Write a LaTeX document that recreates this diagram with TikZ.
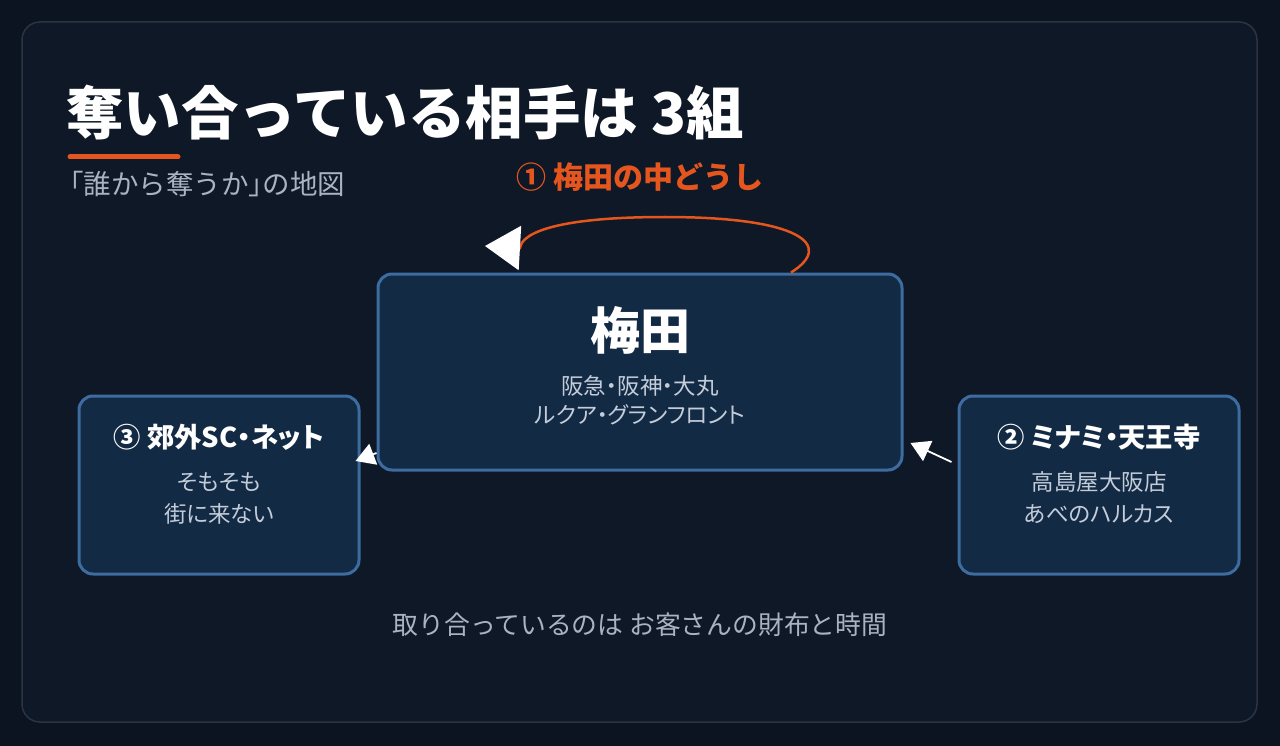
\documentclass[tikz,border=0pt]{standalone}
\usepackage{fontspec}
\setmainfont{Noto Sans CJK JP}
\newfontfamily\jpp{Noto Sans CJK JP}[RawFeature=+palt]
\usetikzlibrary{arrows.meta}
\definecolor{bg}{HTML}{0B1420}
\definecolor{panel}{HTML}{0E1826}
\definecolor{panelline}{HTML}{2A3544}
\definecolor{boxfill}{HTML}{132A44}
\definecolor{boxline}{HTML}{3D6CA0}
\definecolor{accent}{HTML}{E5561F}
\definecolor{subtext}{HTML}{A9B4C2}
\definecolor{bodytext}{HTML}{C3CDDA}
\newcommand\pb[1]{{\jpp #1}}
\tikzset{
  box/.style={rectangle, draw=boxline, fill=boxfill, line width=3pt, rounded corners=14pt, inner sep=0pt},
  txt/.style={inner sep=0pt, text=white},
  ttl/.style={txt, font=\bfseries\fontsize{57.5}{60}\selectfont},
  sub/.style={txt, text=subtext, font=\fontsize{27.5}{30}\selectfont},
  head/.style={txt, font=\jpp\bfseries\fontsize{27.3}{30}\selectfont},
  big/.style={txt, font=\jpp\bfseries\fontsize{50}{56}\selectfont},
  body/.style={txt, text=bodytext, font=\jpp\fontsize{22.5}{26}\selectfont},
  warrow/.style={draw=white, line width=1.8pt, -{Triangle[length=19pt,width=22pt,color=white,fill=white]}},
  looparrow/.style={draw=accent, line width=2.5pt, -{Triangle[length=35pt,width=44pt,color=white,fill=white]}},
}
\begin{document}
\begin{tikzpicture}[x=1pt,y=-1pt]
\useasboundingbox (0,0) rectangle (1280,746);
\fill[bg] (0,0) rectangle (1280,746);
\draw[draw=panelline, fill=panel, line width=1.5pt, rounded corners=18pt] (22,22) rectangle (1257,722);

% title
\node[ttl, anchor=west] (title) at (66,113) {奪い合っている相手は 3組};
\draw[accent, line width=5pt, line cap=round] (70,157) -- (178,157);
\node[sub, anchor=west] (subtitle) at (70,184) {\pb{「}誰から奪うか\pb{」}の地図};

% boxes
\node[box, minimum width=524pt, minimum height=196pt] (umeda) at (640,372) {};
\node[box, minimum width=280pt, minimum height=178pt] (sc) at (219,485) {};
\node[box, minimum width=280pt, minimum height=178pt] (mt) at (1099,485) {};

% Umeda texts
\node[big] (umedat) at (640,330) {梅田};
\node[body] (umedal1) at (640,386) {阪急・阪神・大丸};
\node[body] (umedal2) at (640,415) {ルクア・グランフロント};

% SC texts
\node[head] (sct) at (219,437) {③ 郊外SC・ネット};
\node[body] (scl1) at (219,482) {そもそも};
\node[body] (scl2) at (219,514) {街に来ない};

% Minami texts
\node[head] (mtt) at (1099,437) {② ミナミ・天王寺};
\node[body] (mtl1) at (1099,482) {高島屋大阪店};
\node[body] (mtl2) at (1099,514) {あべのハルカス};

% loop label
\node[txt, text=accent, font=\bfseries\fontsize{30}{32}\selectfont] (looplabel) at (640,177) {① 梅田の中どうし};

% bottom
\node[sub, font=\fontsize{25.8}{30}\selectfont] (bottom) at (640,625) {取り合っているのは お客さんの財布と時間};

% connectors
\coordinate (looptip) at (485,246);
\draw[looparrow] ([xshift=151pt]umeda.north) .. controls (835,245) and (800,217) .. (665,217) .. controls (560,217) and (522,232) .. (520,248) -- (looptip);
\draw[warrow] ([yshift=-81pt]umeda.west) -- ([xshift=-5pt,yshift=24pt]sc.east);
\draw[warrow] ([xshift=-6pt,yshift=23pt]mt.west) -- ([xshift=7pt,yshift=-71pt]umeda.east);
\end{tikzpicture}
\end{document}
